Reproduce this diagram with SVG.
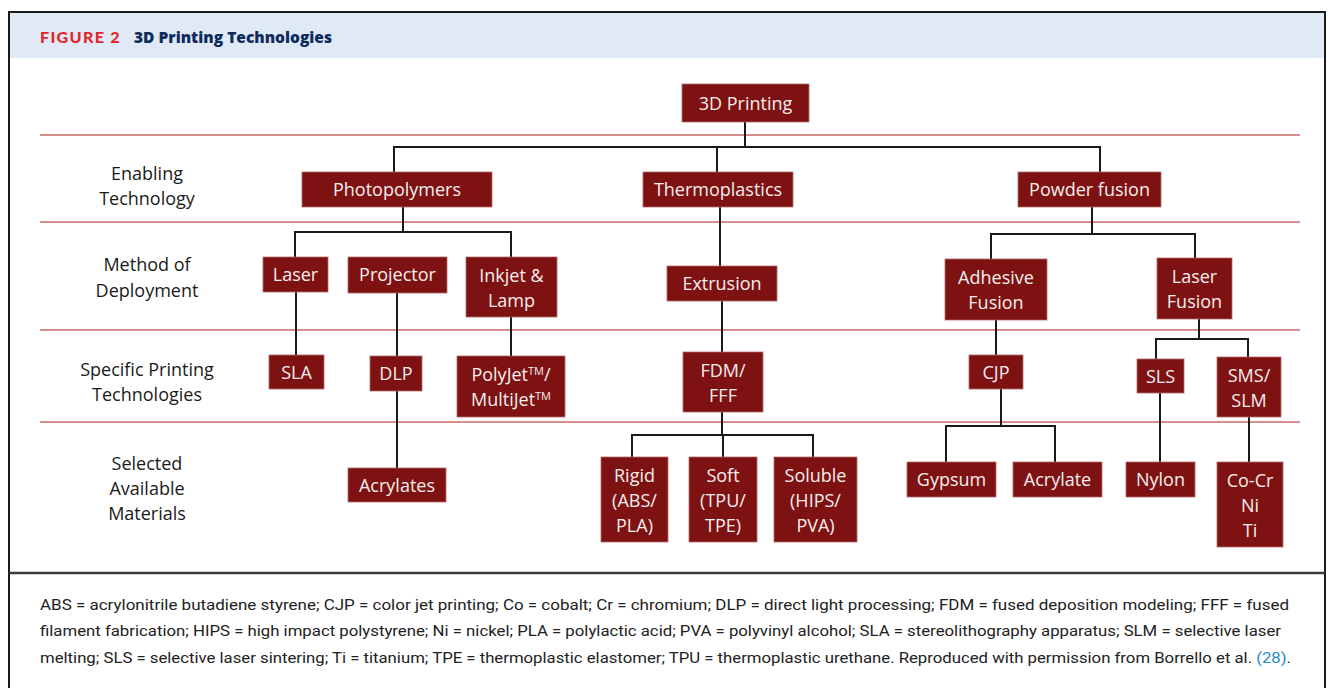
<svg xmlns="http://www.w3.org/2000/svg" width="1336" height="688" viewBox="0 0 1336 688">
<style>
.box{fill:#7e1212;stroke:#b56a6a;stroke-width:0.8}
.bt{font-family:"Open Sans","Noto Sans",sans-serif;font-size:18px;fill:#f6eeee;text-anchor:middle}
.lab{font-family:"Open Sans","Noto Sans",sans-serif;font-size:18px;fill:#1a1a1a;text-anchor:middle}
.sep{stroke:#c0504d;stroke-width:1.6;opacity:0.85}
.con{fill:none;stroke:#1a1a1a;stroke-width:2}
.cap{font-family:Roboto,"Liberation Sans",sans-serif;font-size:15px;fill:#222}
.tm{font-size:11px}
</style>
<rect x="0" y="0" width="1336" height="688" fill="#ffffff"/>
<rect x="10" y="13" width="1314" height="45" fill="#dfeaf6"/>
<rect x="9" y="12" width="1316" height="700" fill="none" stroke="#1a1a1a" stroke-width="2"/>
<line x1="9" y1="573" x2="1325" y2="573" stroke="#3a3a3a" stroke-width="2.5"/>
<text x="40" y="43" font-family="Lato,'Open Sans',sans-serif" font-weight="900" font-size="15.5" fill="#e3262d" letter-spacing="1.2" textLength="81" lengthAdjust="spacingAndGlyphs">FIGURE 2</text>
<text x="134" y="43" font-family="'Open Sans',sans-serif" font-weight="800" font-size="16.5" fill="#0f2a5c" textLength="198" lengthAdjust="spacingAndGlyphs">3D Printing Technologies</text>

<g id="separators">
<line class="sep" x1="40" y1="135" x2="1300" y2="135"/>
<line class="sep" x1="40" y1="222" x2="1300" y2="222"/>
<line class="sep" x1="40" y1="330" x2="1300" y2="330"/>
<line class="sep" x1="40" y1="422" x2="1300" y2="422"/>
</g>

<g id="row-labels">
<text class="lab" x="147" y="180">Enabling</text>
<text class="lab" x="147" y="205">Technology</text>
<text class="lab" x="147" y="271">Method of</text>
<text class="lab" x="147" y="297">Deployment</text>
<text class="lab" x="147" y="376">Specific Printing</text>
<text class="lab" x="147" y="401">Technologies</text>
<text class="lab" x="147" y="470">Selected</text>
<text class="lab" x="147" y="495">Available</text>
<text class="lab" x="147" y="520">Materials</text>
</g>

<g id="connectors">
<path class="con" d="M745 122V147M394 172V147H1100V172M717 147V172"/>
<path class="con" d="M403 207V232M295 257V232H511V257"/>
<path class="con" d="M720 207V266"/>
<path class="con" d="M1092 207V234M991 259V234H1195V258"/>
<path class="con" d="M296 292V355"/>
<path class="con" d="M397 293V356M397 391V468"/>
<path class="con" d="M511 317V356"/>
<path class="con" d="M722 301V352M722 412V435M632 457V435H813V457M723 435V457"/>
<path class="con" d="M996 320V355M1001 389V426M946 462V426H1055V462"/>
<path class="con" d="M1199 319V339M1156 359V339H1248V357"/>
<path class="con" d="M1160 393V462M1249 417V462"/>
</g>

<g id="n-3dprinting"><rect class="box" x="682" y="84" width="127" height="38"/><text class="bt" x="745.5" y="110" font-size="20">3D Printing</text></g>
<g id="n-photopolymers"><rect class="box" x="302" y="172" width="190" height="35"/><text class="bt" x="397" y="196">Photopolymers</text></g>
<g id="n-thermoplastics"><rect class="box" x="643" y="172" width="150" height="35"/><text class="bt" x="718" y="196">Thermoplastics</text></g>
<g id="n-powderfusion"><rect class="box" x="1018" y="172" width="143" height="35"/><text class="bt" x="1089.5" y="196">Powder fusion</text></g>

<g id="n-laser"><rect class="box" x="263" y="257" width="65" height="35"/><text class="bt" x="295.5" y="281">Laser</text></g>
<g id="n-projector"><rect class="box" x="348" y="257" width="99" height="36"/><text class="bt" x="397.5" y="281">Projector</text></g>
<g id="n-inkjet"><rect class="box" x="466" y="257" width="91" height="60"/><text class="bt" x="511.5" y="282">Inkjet &amp;</text><text class="bt" x="511.5" y="307">Lamp</text></g>
<g id="n-extrusion"><rect class="box" x="667" y="266" width="110" height="35"/><text class="bt" x="722" y="290">Extrusion</text></g>
<g id="n-adhesive"><rect class="box" x="945" y="259" width="102" height="61"/><text class="bt" x="996" y="284">Adhesive</text><text class="bt" x="996" y="309">Fusion</text></g>
<g id="n-laserfusion"><rect class="box" x="1157" y="258" width="75" height="61"/><text class="bt" x="1194.5" y="283">Laser</text><text class="bt" x="1194.5" y="308">Fusion</text></g>

<g id="n-sla"><rect class="box" x="269" y="355" width="55" height="34"/><text class="bt" x="296.5" y="379">SLA</text></g>
<g id="n-dlp"><rect class="box" x="370" y="356" width="52" height="35"/><text class="bt" x="396" y="380">DLP</text></g>
<g id="n-polyjet"><rect class="box" x="457" y="356" width="108" height="61"/><text class="bt" x="511" y="381">PolyJet<tspan class="tm" dy="-6">TM</tspan><tspan dy="6">/</tspan></text><text class="bt" x="511" y="406">MultiJet<tspan class="tm" dy="-6">TM</tspan></text></g>
<g id="n-fdm"><rect class="box" x="683" y="352" width="80" height="60"/><text class="bt" x="723" y="377">FDM/</text><text class="bt" x="723" y="402">FFF</text></g>
<g id="n-cjp"><rect class="box" x="969" y="355" width="54" height="34"/><text class="bt" x="996" y="379">CJP</text></g>
<g id="n-sls"><rect class="box" x="1137" y="359" width="47" height="34"/><text class="bt" x="1160.5" y="383">SLS</text></g>
<g id="n-sms"><rect class="box" x="1217" y="357" width="64" height="60"/><text class="bt" x="1249" y="382">SMS/</text><text class="bt" x="1249" y="407">SLM</text></g>

<g id="n-acrylates"><rect class="box" x="348" y="468" width="98" height="34"/><text class="bt" x="397" y="492">Acrylates</text></g>
<g id="n-rigid"><rect class="box" x="601" y="457" width="67" height="85"/><text class="bt" x="634.5" y="482">Rigid</text><text class="bt" x="634.5" y="507">(ABS/</text><text class="bt" x="634.5" y="532">PLA)</text></g>
<g id="n-soft"><rect class="box" x="689" y="457" width="68" height="85"/><text class="bt" x="723" y="482">Soft</text><text class="bt" x="723" y="507">(TPU/</text><text class="bt" x="723" y="532">TPE)</text></g>
<g id="n-soluble"><rect class="box" x="774" y="457" width="83" height="85"/><text class="bt" x="815.5" y="482">Soluble</text><text class="bt" x="815.5" y="507">(HIPS/</text><text class="bt" x="815.5" y="532">PVA)</text></g>
<g id="n-gypsum"><rect class="box" x="907" y="462" width="89" height="35"/><text class="bt" x="951.5" y="486">Gypsum</text></g>
<g id="n-acrylate"><rect class="box" x="1013" y="462" width="89" height="35"/><text class="bt" x="1057.5" y="486">Acrylate</text></g>
<g id="n-nylon"><rect class="box" x="1126" y="462" width="69" height="35"/><text class="bt" x="1160.5" y="486">Nylon</text></g>
<g id="n-cocr"><rect class="box" x="1217" y="462" width="66" height="85"/><text class="bt" x="1250" y="487">Co-Cr</text><text class="bt" x="1250" y="512">Ni</text><text class="bt" x="1250" y="537">Ti</text></g>

<g id="caption">
<text class="cap" x="40" y="610" textLength="1249" lengthAdjust="spacingAndGlyphs">ABS = acrylonitrile butadiene styrene; CJP = color jet printing; Co = cobalt; Cr = chromium; DLP = direct light processing; FDM = fused deposition modeling; FFF = fused</text>
<text class="cap" x="40" y="636" textLength="1241" lengthAdjust="spacingAndGlyphs">filament fabrication; HIPS = high impact polystyrene; Ni = nickel; PLA = polylactic acid; PVA = polyvinyl alcohol; SLA = stereolithography apparatus; SLM = selective laser</text>
<text class="cap" x="40" y="663" textLength="1251" lengthAdjust="spacingAndGlyphs">melting; SLS = selective laser sintering; Ti = titanium; TPE = thermoplastic elastomer; TPU = thermoplastic urethane. Reproduced with permission from Borrello et al. <tspan fill="#2b8ad0">(28)</tspan>.</text>
</g>
</svg>
